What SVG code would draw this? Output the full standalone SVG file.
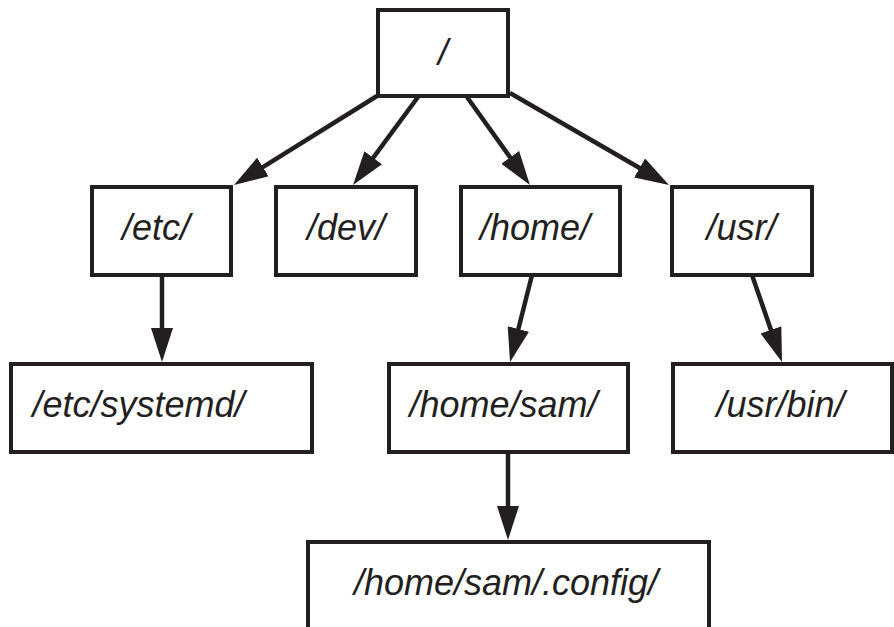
<svg xmlns="http://www.w3.org/2000/svg" width="894" height="627" viewBox="0 0 894 627">
<defs>
<style>
.box{fill:#fff;stroke:#231f20;stroke-width:4}
.lbl{font-family:"Liberation Sans",Arial,sans-serif;font-style:italic;font-size:36px;fill:#231f20;text-anchor:middle}
.edge{stroke:#231f20;stroke-width:4.5;fill:none;marker-end:url(#ah)}
</style>
<marker id="ah" markerUnits="userSpaceOnUse" markerWidth="34" markerHeight="22" viewBox="0 0 34 22" refX="26" refY="11" orient="auto">
<path d="M0,0 L34,11 L0,22 z" fill="#231f20"/>
</marker>
</defs>
<rect width="894" height="627" fill="#fff"/>
<g id="connectors">
<line class="edge" x1="377" y1="96" x2="240.8" y2="180.8"/>
<line class="edge" x1="418" y1="97" x2="357.8" y2="178.6"/>
<line class="edge" x1="467" y1="97" x2="525.3" y2="178.5"/>
<line class="edge" x1="510" y1="93" x2="662.1" y2="181"/>
<line class="edge" x1="162" y1="275" x2="162" y2="354"/>
<line class="edge" x1="532" y1="275" x2="512" y2="354.2"/>
<line class="edge" x1="752" y1="275" x2="779.4" y2="354.4"/>
<line class="edge" x1="508" y1="452" x2="508" y2="532"/>
</g>
<g id="root"><rect class="box" x="378" y="10" width="130" height="86"/><text class="lbl" x="443" y="65">/</text></g>
<g id="etc"><rect class="box" x="92" y="187" width="139" height="88"/><text class="lbl" x="156" y="240">/etc/</text></g>
<g id="dev"><rect class="box" x="276" y="187" width="140" height="88"/><text class="lbl" x="346" y="240">/dev/</text></g>
<g id="home"><rect class="box" x="461" y="187" width="159" height="88"/><text class="lbl" x="535" y="240">/home/</text></g>
<g id="usr"><rect class="box" x="672" y="187" width="140" height="88"/><text class="lbl" x="741.5" y="240">/usr/</text></g>
<g id="systemd"><rect class="box" x="11" y="364" width="301" height="88"/><text class="lbl" x="138.5" y="417">/etc/systemd/</text></g>
<g id="sam"><rect class="box" x="389" y="364" width="239" height="88"/><text class="lbl" x="503.5" y="417">/home/sam/</text></g>
<g id="bin"><rect class="box" x="673" y="364" width="219" height="88"/><text class="lbl" x="780.5" y="417">/usr/bin/</text></g>
<g id="config"><rect class="box" x="308" y="542" width="401" height="100"/><text class="lbl" x="506" y="595">/home/sam/.config/</text></g>
</svg>
